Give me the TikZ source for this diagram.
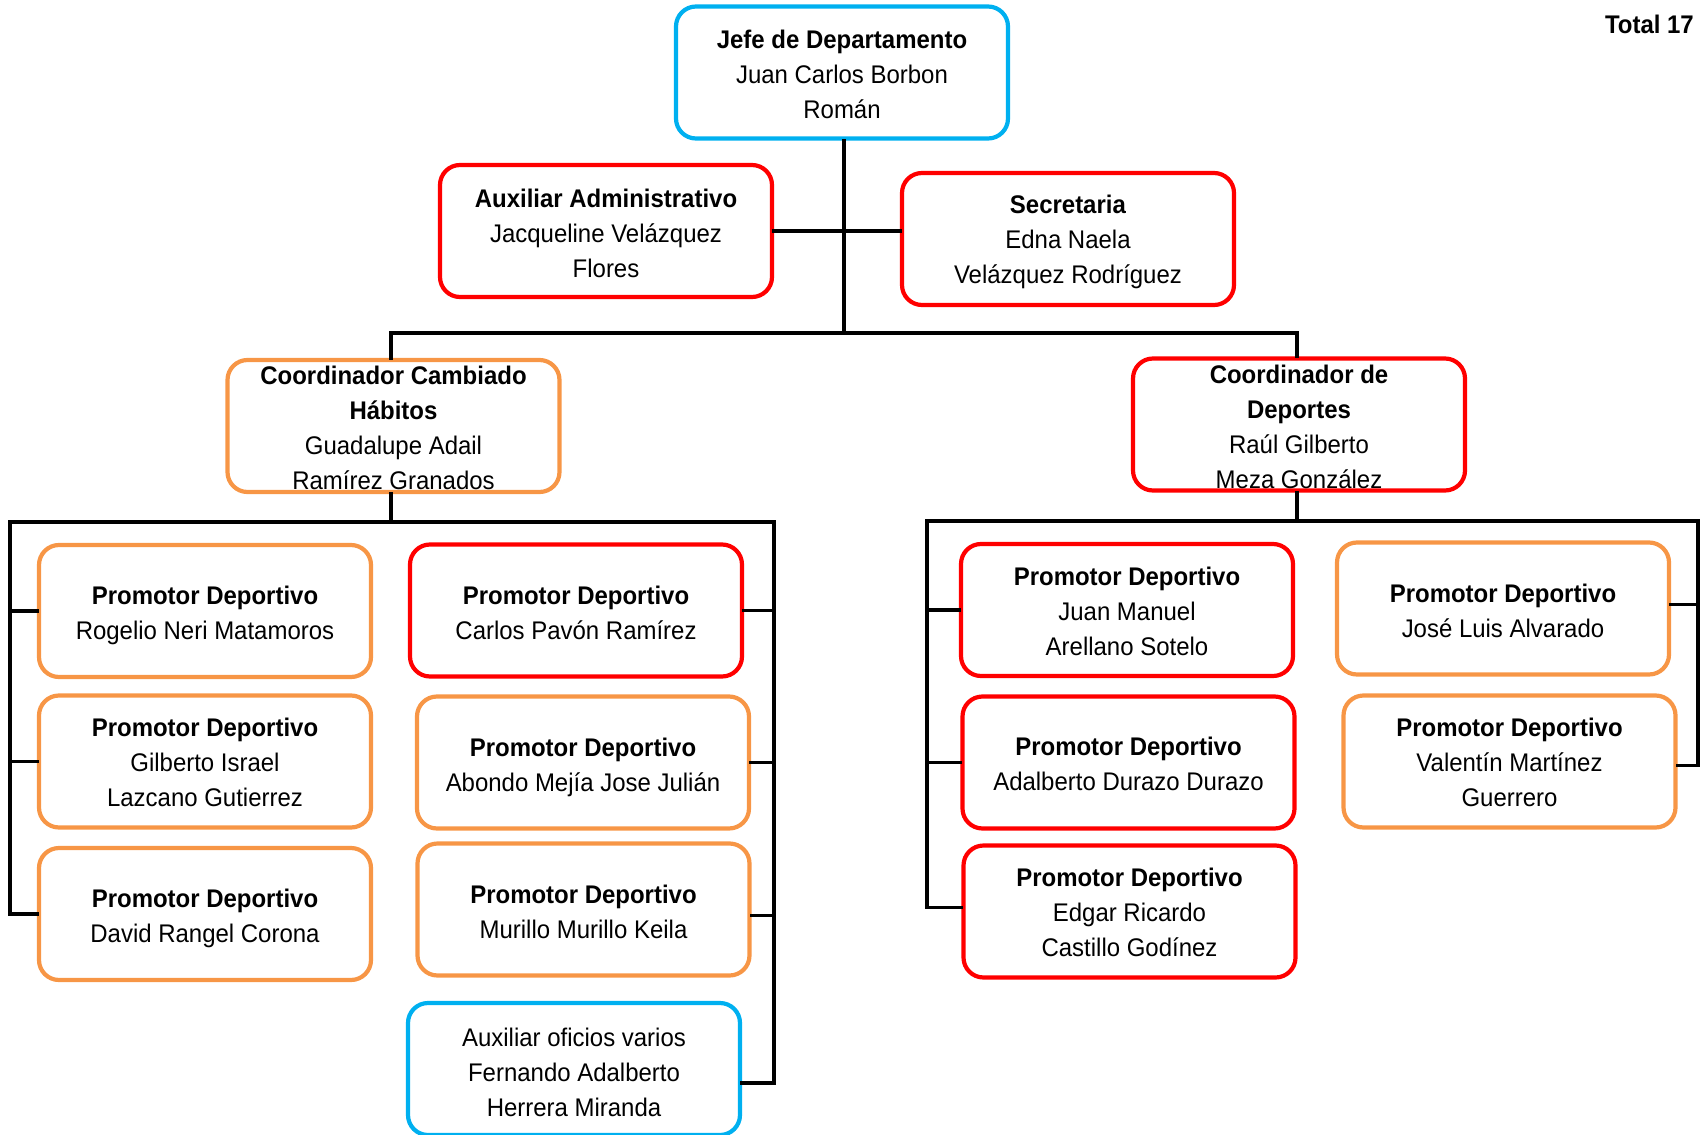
\documentclass[tikz,border=0pt]{standalone}
\usepackage{fontspec}
\setmainfont{Liberation Sans}[FakeStretch=0.94]
\usetikzlibrary{calc}
\definecolor{cblue}{HTML}{00B0F0}
\definecolor{cred}{HTML}{FF0000}
\definecolor{corange}{HTML}{F79646}
\tikzset{
  orgbox/.style={draw=#1, line width=4.2pt, rounded corners=20pt, minimum width=332pt, minimum height=132pt, inner sep=0pt},
  orgtext/.style={align=center, inner sep=0pt, font=\fontsize{25.5pt}{35pt}\selectfont},
  conn/.style={line width=3.6pt, black, line cap=rect},
}
\begin{document}
\begin{tikzpicture}[x=1pt, y=-1pt]
\useasboundingbox (0,0) rectangle (1703,1135);
% boxes
\node[orgbox=cblue]   (jefe)      at (842,72.5) {};
\node[orgbox=cred]    (aux)       at (606,231) {};
\node[orgbox=cred]    (sec)       at (1068,239) {};
\node[orgbox=corange] (cch)       at (393.5,426) {};
\node[orgbox=cred]    (cdep)      at (1299,424.5) {};
\node[orgbox=corange] (rogelio)   at (205,611) {};
\node[orgbox=corange] (gilberto)  at (205,761.5) {};
\node[orgbox=corange] (david)     at (205,914) {};
\node[orgbox=cred]    (carlos)    at (576,610.5) {};
\node[orgbox=corange] (abondo)    at (583,762.5) {};
\node[orgbox=corange] (murillo)   at (583.5,909.5) {};
\node[orgbox=cblue]   (auxof)     at (574,1069) {};
\node[orgbox=cred]    (juan)      at (1127,610) {};
\node[orgbox=cred]    (adalberto) at (1128.5,762.5) {};
\node[orgbox=cred]    (edgar)     at (1129.5,911.5) {};
\node[orgbox=corange] (jose)      at (1503,608.5) {};
\node[orgbox=corange] (valentin)  at (1509.5,761.5) {};
% coordinates of the buses
\coordinate (t1) at (844,333);
\coordinate (lbL) at (10,522);
\coordinate (lbR) at (774,522);
\coordinate (rbL) at (927,521);
\coordinate (rbR) at (1698,521);
% connectors
\draw[conn] (jefe.south -| t1) -- (t1);
\draw[conn] (aux.east) -- (aux.east -| sec.west);
\draw[conn] (cch.north -| 391,0) |- (t1) -| (cdep.north -| 1297,0);
\draw[conn] (cch.south -| 391,0) -- (391,522);
\draw[conn] (lbL) -- (lbR);
\draw[conn] (lbL) |- (david.west);
\draw[conn] (rogelio.west) -- (rogelio.west -| lbL);
\draw[conn] (gilberto.west) -- (gilberto.west -| lbL);
\draw[conn] (lbR) |- ([yshift=-14pt]auxof.east);
\draw[conn] (carlos.east) -- (carlos.east -| lbR);
\draw[conn] (abondo.east) -- (abondo.east -| lbR);
\draw[conn] ([yshift=-6pt]murillo.east) -- ([yshift=-6pt]murillo.east -| lbR);
\draw[conn] (cdep.south -| 1297,0) -- (1297,521);
\draw[conn] (rbL) -- (rbR);
\draw[conn] (rbL) |- ([yshift=4pt]edgar.west);
\draw[conn] (juan.west) -- (juan.west -| rbL);
\draw[conn] (adalberto.west) -- (adalberto.west -| rbL);
\draw[conn] (rbR) |- ([yshift=-4pt]valentin.east);
\draw[conn] ([yshift=4pt]jose.east) -- ([yshift=4pt]jose.east -| rbR);
% texts
\node[orgtext] at ([yshift=-2pt]jefe.center) {\textbf{Jefe de Departamento}\\Juan Carlos Borbon\\Román};
\node[orgtext] at ([yshift=-2pt]aux.center) {\textbf{Auxiliar Administrativo}\\Jacqueline Velázquez\\Flores};
\node[orgtext] at ([yshift=-3pt]sec.center) {\textbf{Secretaria}\\Edna Naela\\Velázquez Rodríguez};
\node[orgtext] at ([yshift=-2pt]cch.center) {\textbf{Coordinador Cambiado}\\\textbf{Hábitos}\\Guadalupe Adail\\Ramírez Granados};
\node[orgtext] at ([yshift=-2pt]cdep.center) {\textbf{Coordinador de}\\\textbf{Deportes}\\Raúl Gilberto\\Meza González};
\node[orgtext] at ([yshift=-4.5pt]rogelio.center) {\textbf{Promotor Deportivo}\\Rogelio Neri Matamoros};
\node[orgtext] at ([yshift=-1pt]gilberto.center) {\textbf{Promotor Deportivo}\\Gilberto Israel\\Lazcano Gutierrez};
\node[orgtext] at ([yshift=-4.5pt]david.center) {\textbf{Promotor Deportivo}\\David Rangel Corona};
\node[orgtext] at ([yshift=-2.5pt]carlos.center) {\textbf{Promotor Deportivo}\\Carlos Pavón Ramírez};
\node[orgtext] at ([yshift=-4.5pt]abondo.center) {\textbf{Promotor Deportivo}\\Abondo Mejía Jose Julián};
\node[orgtext] at ([yshift=-2.5pt]murillo.center) {\textbf{Promotor Deportivo}\\Murillo Murillo Keila};
\node[orgtext] at ([yshift=-3pt]auxof.center) {Auxiliar oficios varios\\Fernando Adalberto\\Herrera Miranda};
\node[orgtext] at ([yshift=-1pt]juan.center) {\textbf{Promotor Deportivo}\\Juan Manuel\\Arellano Sotelo};
\node[orgtext] at ([yshift=-1.5pt]adalberto.center) {\textbf{Promotor Deportivo}\\Adalberto Durazo Durazo};
\node[orgtext] at ([yshift=-1pt]edgar.center) {\textbf{Promotor Deportivo}\\Edgar Ricardo\\Castillo Godínez};
\node[orgtext] at ([yshift=-2.5pt]jose.center) {\textbf{Promotor Deportivo}\\José Luis Alvarado};
\node[orgtext] at ([yshift=-1pt]valentin.center) {\textbf{Promotor Deportivo}\\Valentín Martínez\\Guerrero};
\node[orgtext, anchor=base east] (total) at (1694,34) {\textbf{Total 17}};
\end{tikzpicture}
\end{document}
